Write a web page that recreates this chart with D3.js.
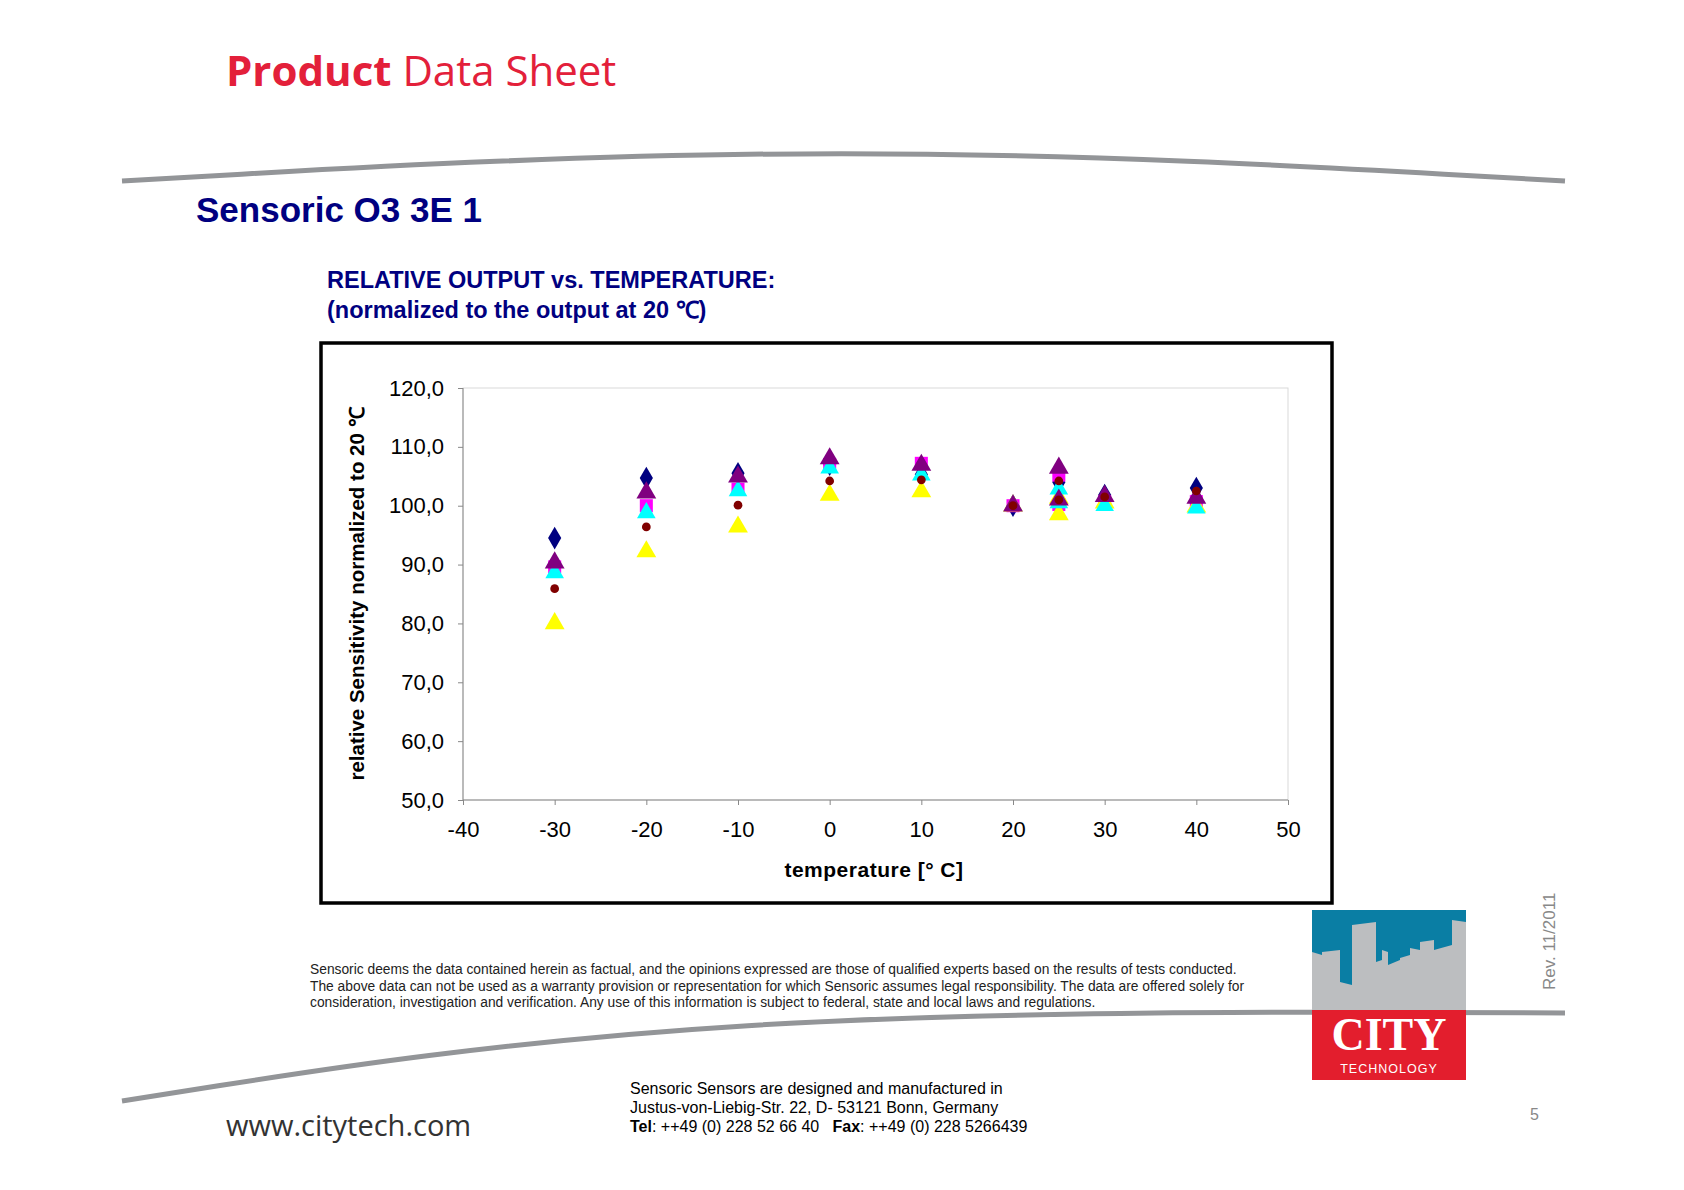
<!DOCTYPE html>
<html><head><meta charset="utf-8">
<script src="https://cdn.jsdelivr.net/npm/d3@7"></script>
<style>body{margin:0;background:#fff}svg{display:block}text{font-family:"Liberation Sans",Arial,sans-serif}</style>
</head><body>
<script>
// temperatures (25 °C appears twice: two runs)
var temps = [-30, -20, -10, 0, 10, 20, 25, 25, 30, 40];
var sNavy    = [94.5, 104.7, 105.5, 107.0, 105.3, 100.0, 104.0, 100.5, 101.8, 103.0];
var sMagenta = [89.6, 100.0, 102.8, 107.0, 107.2, 100.0, 105.2, 100.2, 100.7, 100.7];
var sYellow  = [80.0, 92.2, 96.4, 101.8, 102.4, 100.0, 101.3, 98.5, 100.5, 99.8];
var sCyan    = [88.6, 98.8, 102.5, 106.4, 105.2, 100.0, 102.8, 100.5, 100.0, 99.6];
var sPurple  = [90.3, 102.2, 104.9, 108.0, 106.9, 100.0, 106.4, 101.0, 101.6, 101.3];
var sDarkRed = [85.9, 96.4, 100.1, 104.2, 104.4, 100.0, 104.2, 101.0, 101.5, 102.5];
var xTicks = [-40, -30, -20, -10, 0, 10, 20, 30, 40, 50];
var yTicks = [50, 60, 70, 80, 90, 100, 110, 120];

var series = [
  {v: sNavy, c: "#000080", m: d3.symbolDiamond, s: 150},
  {v: sMagenta, c: "#ff00ff", m: d3.symbolSquare, s: 170},
  {v: sYellow, c: "#ffff00", m: d3.symbolTriangle, s: 170},
  {v: sCyan, c: "#00ffff", m: d3.symbolTriangle, s: 150},
  {v: sPurple, c: "#800080", m: d3.symbolTriangle, s: 170},
  {v: sDarkRed, c: "#800000", m: d3.symbolCircle, s: 60}
];

var W = 1684, H = 1190;
var svg = d3.select("body").append("svg").attr("width", W).attr("height", H);

// header
var t = svg.append("text").attr("x", 226).attr("y", 86).attr("font-size", 42).attr("fill", "#e3203a")
  .style("font-family", "'Open Sans',sans-serif");
t.append("tspan").attr("font-weight", "bold").text("Product");
t.append("tspan").text(" Data Sheet");

var curve = d3.line().curve(d3.curveBasis);
svg.append("path").attr("d", curve([[122, 181], [840, 140], [1565, 181]]))
  .attr("fill", "none").attr("stroke", "#939598").attr("stroke-width", 5);
svg.append("path").attr("d", curve([[122, 1101], [700, 1010], [1565, 1013]]))
  .attr("fill", "none").attr("stroke", "#939598").attr("stroke-width", 5);

svg.append("text").attr("x", 196).attr("y", 222).attr("font-size", 35).attr("font-weight", "bold")
  .attr("fill", "#000080").text("Sensoric O3 3E 1");
svg.append("text").attr("x", 327).attr("y", 288).attr("font-size", 23.5).attr("font-weight", "bold")
  .attr("fill", "#000080").text("RELATIVE OUTPUT vs. TEMPERATURE:");
svg.append("text").attr("x", 327).attr("y", 318).attr("font-size", 23.5).attr("font-weight", "bold")
  .attr("fill", "#000080").text("(normalized to the output at 20 \u2103)");

// chart frame
svg.append("rect").attr("x", 321).attr("y", 343).attr("width", 1011).attr("height", 560)
  .attr("fill", "#fff").attr("stroke", "#000").attr("stroke-width", 3.5);

var x = d3.scaleLinear().domain([-40, 50]).range([463, 1288]);
var y = d3.scaleLinear().domain([50, 120]).range([800, 388]);

svg.append("rect").attr("x", 463).attr("y", 388).attr("width", 825).attr("height", 412)
  .attr("fill", "none").attr("stroke", "#d9d9d9");

var gx = svg.append("g").attr("transform", "translate(0,800)")
  .call(d3.axisBottom(x).tickValues(xTicks).tickSize(5).tickPadding(16).tickFormat(d => String(d)));
var gy = svg.append("g").attr("transform", "translate(463,0)")
  .call(d3.axisLeft(y).tickValues(yTicks).tickSize(5).tickPadding(14).tickFormat(d => d.toFixed(1).replace(".", ",")));
[gx, gy].forEach(g => {
  g.selectAll("path,line").attr("stroke", "#888");
  g.selectAll("text").attr("font-size", 22).attr("fill", "#000").style("font-family", "'Liberation Sans',Arial,sans-serif");
});
gx.select(".domain").remove();
gy.select(".domain").remove();
svg.append("line").attr("x1", 463).attr("x2", 1288).attr("y1", 800).attr("y2", 800).attr("stroke", "#888");
svg.append("line").attr("x1", 463).attr("x2", 463).attr("y1", 388).attr("y2", 800).attr("stroke", "#888");

svg.append("text").attr("x", 874).attr("y", 877).attr("text-anchor", "middle").attr("font-size", 21)
  .attr("font-weight", "bold").attr("letter-spacing", 0.5).text("temperature [\u00b0 C]");
svg.append("text").attr("transform", "translate(364,594) rotate(-90)").attr("text-anchor", "middle")
  .attr("font-size", 20.5).attr("font-weight", "bold").text("relative Sensitivity normalized to 20 \u2103");

series.forEach(s => {
  svg.append("g").selectAll("path").data(s.v.map((v, i) => [temps[i], v]).filter(d => d[1] != null))
    .enter().append("path")
    .attr("transform", d => "translate(" + x(d[0]) + "," + y(d[1]) + ")")
    .attr("d", d3.symbol().type(s.m).size(s.s)).attr("fill", s.c);
});

// disclaimer
["Sensoric deems the data contained herein as factual, and the opinions expressed are those of qualified experts based on the results of tests conducted.",
 "The above data can not be used as a warranty provision or representation for which Sensoric assumes legal responsibility. The data are offered solely for",
 "consideration, investigation and verification. Any use of this information is subject to federal, state and local laws and regulations."]
.forEach((l, i) => svg.append("text").attr("x", 310).attr("y", 974 + i * 16.5).attr("font-size", 13.8).attr("fill", "#222").text(l));

// logo
var lg = svg.append("g").attr("transform", "translate(1312,910)");
lg.append("rect").attr("width", 154).attr("height", 170).attr("fill", "#e31e2d");
lg.append("rect").attr("width", 154).attr("height", 100).attr("fill", "#bcbec0");
lg.append("path").attr("d", "M0,0H154V12L140,10V35L122,40V30L108,32V40L98,38V45L88,48V50L76,55V42L70,40V50L64,52V12L40,15V75L28,72V40L10,42V45L0,42Z").attr("fill", "#0a7ea4");
lg.append("text").attr("x", 77).attr("y", 140).attr("text-anchor", "middle").attr("font-size", 46)
  .attr("font-weight", "bold").attr("fill", "#fff").style("font-family", "'Liberation Serif',serif").text("CITY");
lg.append("text").attr("x", 77).attr("y", 163).attr("text-anchor", "middle").attr("font-size", 12.5)
  .attr("fill", "#fff").attr("letter-spacing", 1).text("TECHNOLOGY");

svg.append("text").attr("transform", "translate(1555,990) rotate(-90)").attr("font-size", 17)
  .attr("fill", "#888").text("Rev.  11/2011");

svg.append("text").attr("x", 226).attr("y", 1136).attr("font-size", 29).attr("fill", "#333")
  .style("font-family", "'Open Sans',sans-serif").text("www.citytech.com");
svg.append("text").attr("x", 630).attr("y", 1094).attr("font-size", 16).text("Sensoric Sensors are designed and manufactured in");
svg.append("text").attr("x", 630).attr("y", 1113).attr("font-size", 16).text("Justus-von-Liebig-Str. 22, D- 53121 Bonn, Germany");
var a = svg.append("text").attr("x", 630).attr("y", 1132).attr("font-size", 16).attr("xml:space", "preserve");
a.append("tspan").attr("font-weight", "bold").text("Tel");
a.append("tspan").text(": ++49 (0) 228 52 66 40\u00a0\u00a0\u00a0");
a.append("tspan").attr("font-weight", "bold").text("Fax");
a.append("tspan").text(": ++49 (0) 228 5266439");
svg.append("text").attr("x", 1530).attr("y", 1120).attr("font-size", 16).attr("fill", "#888").text("5");
</script>
</body></html>
